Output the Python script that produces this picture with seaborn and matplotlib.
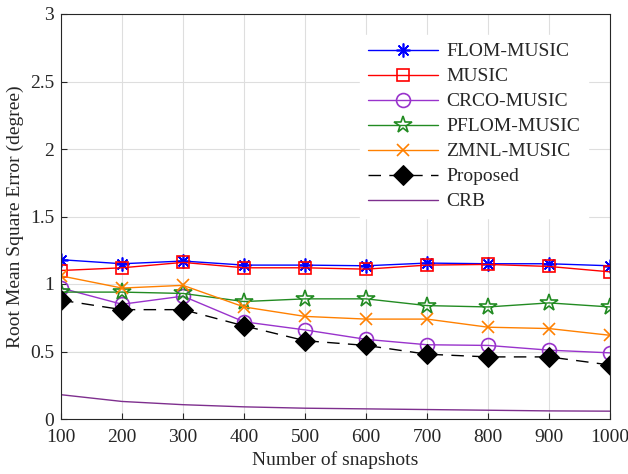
import matplotlib
matplotlib.use("Agg")
import matplotlib.pyplot as plt
import seaborn as sns
import pandas as pd

snapshots = [100, 200, 300, 400, 500, 600, 700, 800, 900, 1000]
flom_music = [1.18, 1.15, 1.17, 1.14, 1.14, 1.135, 1.155, 1.15, 1.15, 1.135]
music = [1.10, 1.12, 1.16, 1.12, 1.12, 1.11, 1.14, 1.145, 1.13, 1.09]
crco_music = [0.97, 0.85, 0.91, 0.72, 0.66, 0.59, 0.55, 0.545, 0.51, 0.49]
pflom_music = [0.94, 0.94, 0.93, 0.87, 0.89, 0.89, 0.84, 0.83, 0.86, 0.83]
zmnl_music = [1.06, 0.97, 0.99, 0.83, 0.76, 0.74, 0.74, 0.68, 0.67, 0.62]
proposed = [0.88, 0.81, 0.81, 0.69, 0.58, 0.545, 0.48, 0.46, 0.46, 0.40]
crb = [0.18, 0.13, 0.106, 0.09, 0.08, 0.075, 0.07, 0.065, 0.06, 0.058]

xticks = [100, 200, 300, 400, 500, 600, 700, 800, 900, 1000]
yticks = [0, 0.5, 1, 1.5, 2, 2.5, 3]
ytick_labels = ["0", "0.5", "1", "1.5", "2", "2.5", "3"]

sns.set_style("white")
plt.rcParams["font.family"] = ["Liberation Serif", "DejaVu Serif"]
plt.rcParams["mathtext.fontset"] = "stix"

fig = plt.figure(figsize=(6.28, 4.74), dpi=100)
ax = fig.add_axes([61 / 628, 1 - 419 / 474, (610 - 61) / 628, (419 - 14) / 474])

series = [
    ("FLOM-MUSIC", flom_music, dict(color="#0000FF", marker=(8, 2, 0), markersize=10, markeredgecolor="#0000FF", markeredgewidth=1.2, linestyle="-")),
    ("MUSIC", music, dict(color="#FF0000", marker="s", markersize=9, markerfacecolor="none", markeredgecolor="#FF0000", markeredgewidth=1.2, linestyle="-")),
    ("CRCO-MUSIC", crco_music, dict(color="#9933CC", marker="o", markersize=10, markerfacecolor="none", markeredgecolor="#9933CC", markeredgewidth=1.2, linestyle="-")),
    ("PFLOM-MUSIC", pflom_music, dict(color="#228B22", marker="*", markersize=13, markerfacecolor="none", markeredgecolor="#228B22", markeredgewidth=1.2, linestyle="-")),
    ("ZMNL-MUSIC", zmnl_music, dict(color="#FF8000", marker="x", markersize=9, markeredgecolor="#FF8000", markeredgewidth=1.2, linestyle="-")),
    ("Proposed", proposed, dict(color="black", marker="D", markersize=10, markerfacecolor="black", markeredgecolor="black", linestyle=(0, (9, 6)))),
    ("CRB", crb, dict(color="#7E2F8E", linestyle="-")),
]

for name, vals, kw in series:
    df = pd.DataFrame({"snapshots": snapshots, "rmse": vals})
    sns.lineplot(data=df, x="snapshots", y="rmse", ax=ax, label=name, linewidth=1.0, **kw)

ax.set_xlim(100, 1000)
ax.set_ylim(0, 3)
ax.set_xticks(xticks)
ax.set_xticklabels([str(t) for t in xticks])
ax.set_yticks(yticks)
ax.set_yticklabels(ytick_labels)
ax.grid(True, color="#DEDEDE", linewidth=0.8)
ax.set_axisbelow(True)
for s in ax.spines.values():
    s.set_visible(True)
    s.set_color("#262626")
    s.set_linewidth(0.8)
ax.tick_params(direction="in", length=4, width=0.8, labelsize=14, colors="#262626", top=False, right=False, bottom=True, left=True)
ax.tick_params(axis="x", pad=7)
ax.tick_params(axis="y", pad=5)
for lab in ax.get_xticklabels() + ax.get_yticklabels():
    lab.set_color("#262626")
ax.set_xlabel("Number of snapshots", fontsize=14, color="#262626", labelpad=4)
ax.set_ylabel("Root Mean Square Error (degree)", fontsize=14, color="#262626", labelpad=4)

leg = ax.legend(loc="upper right", bbox_to_anchor=(0.977, 0.972), fontsize=14, frameon=True, fancybox=False,
                edgecolor="white", framealpha=1, handlelength=3.6, handletextpad=0.4,
                labelspacing=0.38, borderpad=0.4)

fig.savefig("out.png", dpi=100)
